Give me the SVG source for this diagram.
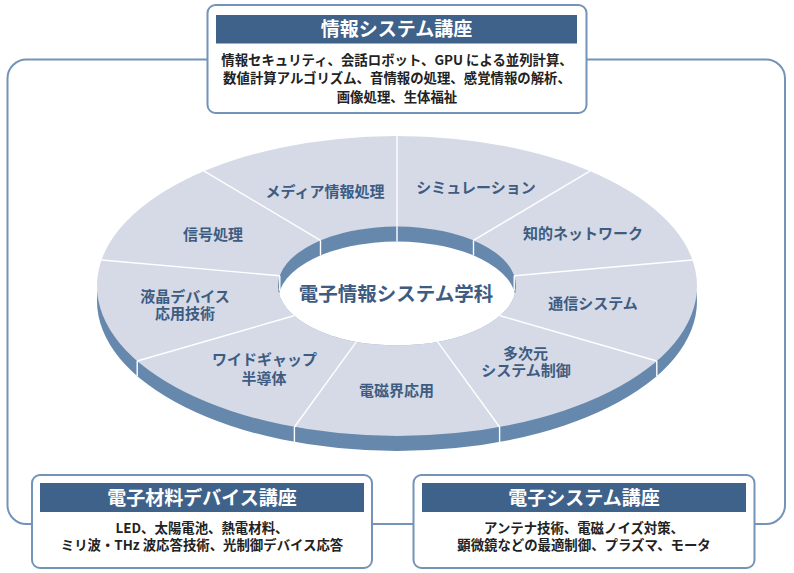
<svg xmlns="http://www.w3.org/2000/svg" width="794" height="573" viewBox="0 0 794 573">
<style>
text{font-family:"Noto Sans CJK JP","Noto Sans CJK SC",sans-serif;font-weight:bold;text-anchor:middle}
.frame{fill:none;stroke:#7393b8;stroke-width:2}
.box{fill:#ffffff;stroke:#7393b8;stroke-width:2}
.bar{fill:#3f628a}
.hdr{fill:#ffffff;font-size:19px}
.body{fill:#222222;font-size:13.4px}
.lbl{fill:#3e5c82;font-size:15px}
.ttl{fill:#3e5c82;font-size:19.5px}
.side{fill:#6688ad}
.face{fill:#d5dae6}
.div{stroke:#ffffff;stroke-width:1.4;fill:none}
</style>
<defs>
<clipPath id="hole"><ellipse cx="397" cy="286" rx="119" ry="59.5"/></clipPath>
</defs>
<g id="connectors">
<rect class="frame" x="7.5" y="59.5" width="777.5" height="464.5" rx="19" ry="19"/>
</g>
<g id="ring">
<ellipse class="side" cx="397" cy="301" rx="300" ry="150"/>
<ellipse class="face" cx="397" cy="286" rx="300" ry="150"/>
<ellipse class="side" cx="397" cy="286" rx="119" ry="59.5"/>
<g class="div">
<line x1="279.8" y1="275.7" x2="279.8" y2="290.7"/>
<line x1="320.5" y1="240.4" x2="320.5" y2="255.4"/>
<line x1="397" y1="226.5" x2="397" y2="241.5"/>
<line x1="473.5" y1="240.4" x2="473.5" y2="255.4"/>
<line x1="514.2" y1="275.7" x2="514.2" y2="290.7"/>
</g>
<ellipse cx="397" cy="301" rx="119" ry="59.5" fill="#ffffff" clip-path="url(#hole)"/>
<g class="div">
<line x1="397" y1="226.5" x2="397" y2="136"/>
<line x1="473.5" y1="240.4" x2="589.8" y2="171.1"/>
<line x1="514.2" y1="275.7" x2="692.4" y2="260"/>
<line x1="500.1" y1="315.75" x2="656.8" y2="361"/>
<line x1="437.7" y1="341.9" x2="499.6" y2="427"/>
<line x1="356.3" y1="341.9" x2="294.4" y2="427"/>
<line x1="293.9" y1="315.75" x2="137.2" y2="361"/>
<line x1="279.8" y1="275.7" x2="101.6" y2="260"/>
<line x1="320.5" y1="240.4" x2="204.2" y2="171.1"/>
<line x1="656.8" y1="361" x2="656.8" y2="376"/>
<line x1="499.6" y1="427" x2="499.6" y2="442"/>
<line x1="294.4" y1="427" x2="294.4" y2="442"/>
<line x1="137.2" y1="361" x2="137.2" y2="376"/>
</g>
<text class="ttl" x="396" y="300.5">電子情報システム学科</text>
</g>
<g id="seg-media"><text class="lbl" x="325" y="196.7">メディア情報処理</text></g>
<g id="seg-sim"><text class="lbl" x="476" y="193">シミュレーション</text></g>
<g id="seg-net"><text class="lbl" x="583" y="239">知的ネットワーク</text></g>
<g id="seg-comm"><text class="lbl" x="593" y="308.7">通信システム</text></g>
<g id="seg-multi"><text class="lbl" x="525.5" y="359">多次元</text><text class="lbl" x="526" y="375.7">システム制御</text></g>
<g id="seg-em"><text class="lbl" x="396.5" y="395.7">電磁界応用</text></g>
<g id="seg-wide"><text class="lbl" x="264.5" y="364.7">ワイドギャップ</text><text class="lbl" x="264" y="384">半導体</text></g>
<g id="seg-lcd"><text class="lbl" x="185" y="301.7">液晶デバイス</text><text class="lbl" x="185" y="318.7">応用技術</text></g>
<g id="seg-signal"><text class="lbl" x="213" y="239.7">信号処理</text></g>
<g id="box-info">
<rect class="box" x="207.5" y="5" width="379" height="108" rx="8" ry="8"/>
<rect class="bar" x="216" y="15" width="361" height="28.5"/>
<text class="hdr" x="396.5" y="36">情報システム講座</text>
<text class="body" x="397" y="65">情報セキュリティ、会話ロボット、GPU による並列計算、</text>
<text class="body" x="397" y="83.3">数値計算アルゴリズム、音情報の処理、感覚情報の解析、</text>
<text class="body" x="397" y="101.7">画像処理、生体福祉</text>
</g>
<g id="box-material">
<rect class="box" x="32" y="475" width="340" height="93" rx="8" ry="8"/>
<rect class="bar" x="40" y="483" width="324" height="29"/>
<text class="hdr" x="202" y="504.5">電子材料デバイス講座</text>
<text class="body" x="202" y="533.3">LED、太陽電池、熱電材料、</text>
<text class="body" x="202" y="550">ミリ波・THz 波応答技術、光制御デバイス応答</text>
</g>
<g id="box-system">
<rect class="box" x="413.5" y="475" width="341" height="93" rx="8" ry="8"/>
<rect class="bar" x="422" y="483" width="324" height="29"/>
<text class="hdr" x="584" y="504.5">電子システム講座</text>
<text class="body" x="584" y="533.3">アンテナ技術、電磁ノイズ対策、</text>
<text class="body" x="584" y="550">顕微鏡などの最適制御、プラズマ、モータ</text>
</g>
</svg>
